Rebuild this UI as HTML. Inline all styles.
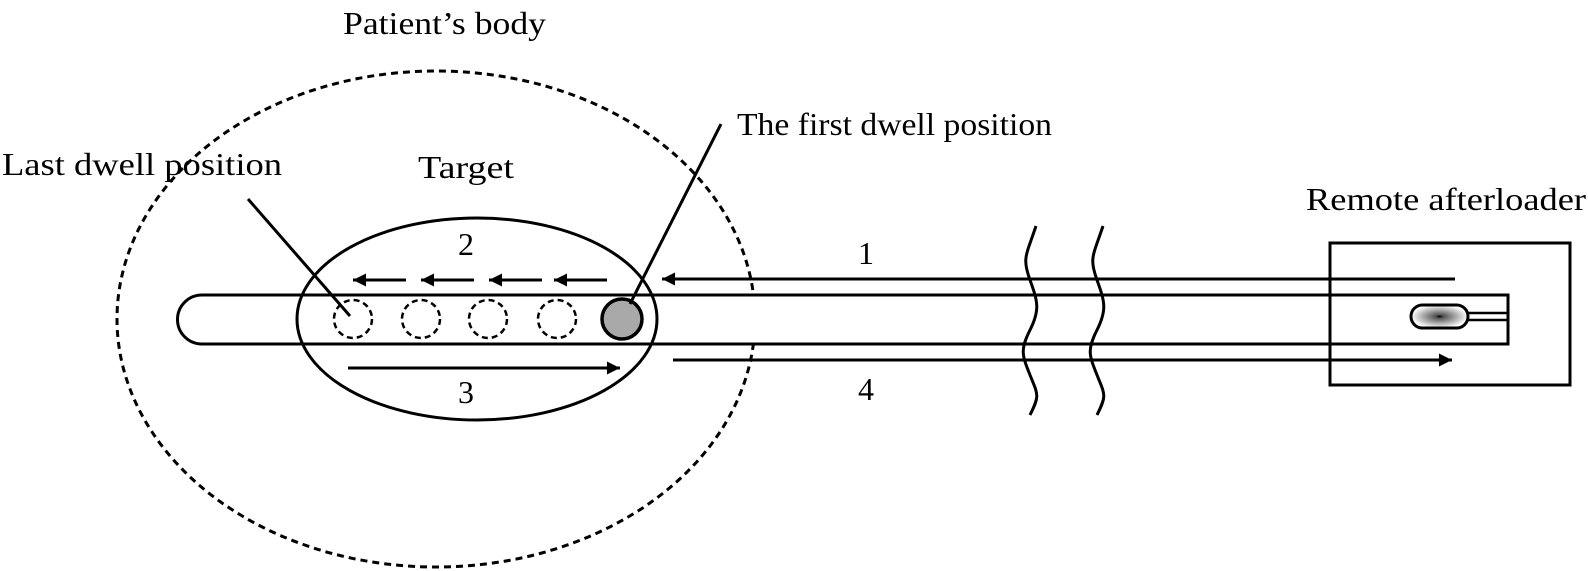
<!DOCTYPE html>
<html><head><style>html,body{margin:0;padding:0;background:#fff;}svg{display:block}</style></head>
<body>
<svg width="1588" height="571" viewBox="0 0 1588 571" xmlns="http://www.w3.org/2000/svg" font-family="'Liberation Serif', serif" font-size="32">
<defs>
<marker id="ah" viewBox="0 0 10 10" refX="10" refY="5" markerWidth="18" markerHeight="13" markerUnits="userSpaceOnUse" orient="auto"><path d="M0,0 L10,5 L0,10 Z" fill="#000"/></marker>
<radialGradient id="g" cx="0.5" cy="0.5" r="0.5"><stop offset="0" stop-color="#000"/><stop offset="0.15" stop-color="#555"/><stop offset="1" stop-color="#fff"/></radialGradient>
</defs>
<g fill="none" stroke="#000" stroke-width="3">
<ellipse cx="436" cy="319" rx="319" ry="248" stroke-dasharray="7,5"/>
<path d="M1508,295 L202,295 A24.5,24.5 0 0 0 202,344 L1508,344 Z" fill="#fff"/>
<ellipse cx="477" cy="319" rx="180" ry="101"/>
<rect x="1330" y="243" width="240" height="142"/>
<line x1="1031" y1="279" x2="1455" y2="279"/>
<line x1="1468" y1="313" x2="1508" y2="313" stroke-width="2.5"/>
<line x1="1468" y1="320" x2="1508" y2="320" stroke-width="2.5"/>
<rect x="1411" y="305" width="57" height="23" rx="11.5" fill="url(#g)"/>
<line x1="1031" y1="279" x2="662" y2="279" marker-end="url(#ah)"/>
<line x1="673" y1="360" x2="1452" y2="360" marker-end="url(#ah)"/>
<line x1="406" y1="280" x2="353" y2="280" marker-end="url(#ah)"/>
<line x1="474" y1="280" x2="421" y2="280" marker-end="url(#ah)"/>
<line x1="542" y1="280" x2="489" y2="280" marker-end="url(#ah)"/>
<line x1="607" y1="280" x2="554" y2="280" marker-end="url(#ah)"/>
<line x1="348" y1="368" x2="620" y2="368" marker-end="url(#ah)"/>
<g stroke-dasharray="6,4" stroke-width="2.5">
<circle cx="353" cy="319" r="19"/><circle cx="421" cy="319" r="19"/><circle cx="488" cy="319" r="19"/><circle cx="557" cy="319" r="19"/>
</g>
<circle cx="622" cy="319" r="20" fill="#a9a9a9" stroke-width="3.5"/>
<line x1="248" y1="199" x2="350" y2="316"/>
<line x1="721" y1="124" x2="630" y2="304"/>
<path d="M1036,226 C1026,256 1022,258 1030,280 S1040,310 1030,330 S1022,355 1030,375 S1040,395 1030,415" fill="none"/>
<path d="M1103,226 C1093,256 1089,258 1097,280 S1107,310 1097,330 S1089,355 1097,375 S1107,395 1097,415" fill="none"/>
</g>
<g fill="#000">
<text x="343" y="34" textLength="203" lengthAdjust="spacingAndGlyphs">Patient’s body</text>
<text x="737" y="135" textLength="315" lengthAdjust="spacingAndGlyphs">The first dwell position</text>
<text x="2" y="175" textLength="280" lengthAdjust="spacingAndGlyphs">Last dwell position</text>
<text x="418" y="178" textLength="96" lengthAdjust="spacingAndGlyphs">Target</text>
<text x="1306" y="210" textLength="280" lengthAdjust="spacingAndGlyphs">Remote afterloader</text>
<text x="858" y="264">1</text>
<text x="458" y="255">2</text>
<text x="458" y="403">3</text>
<text x="858" y="400">4</text>
</g>
</svg>
</body></html>
